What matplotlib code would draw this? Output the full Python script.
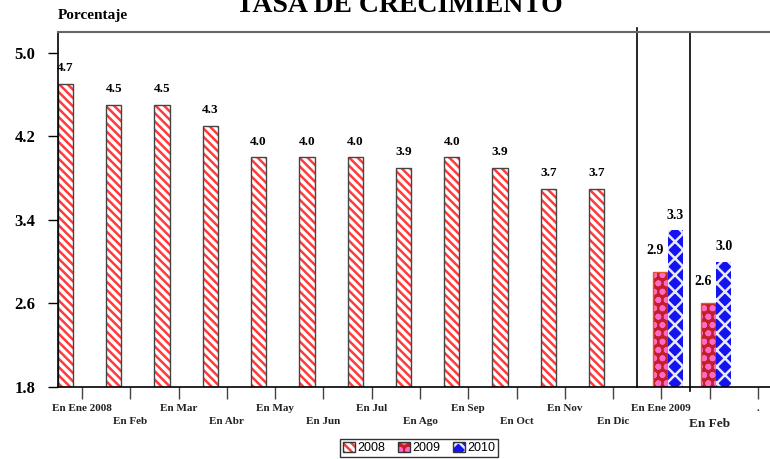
import matplotlib
matplotlib.use("Agg")
import matplotlib.pyplot as plt
from matplotlib.patches import Patch
import numpy as np

plt.rcParams['hatch.linewidth'] = 1.8

# data
meses = ["En Ene 2008", "En Feb", "En Mar", "En Abr", "En May", "En Jun", "En Jul",
         "En Ago", "En Sep", "En Oct", "En Nov", "En Dic", "En Ene 2009", "En Feb", "."]
v2008 = [4.7, 4.5, 4.5, 4.3, 4.0, 4.0, 4.0, 3.9, 4.0, 3.9, 3.7, 3.7]
v2009 = [2.9, 2.6]
v2010 = [3.3, 3.0]
pos2008 = np.arange(12)
pos0910 = np.array([12, 13])

serif = "Liberation Serif"
fig = plt.figure(figsize=(7.7, 4.59), dpi=100)
ax = fig.add_axes([0.0751, 0.1569, 0.9249, 0.7734])

w = 0.317
off08 = -0.5 + w / 2
off09 = -0.5 + 1.5 * w
off10 = -0.5 + 2.5 * w

# 2008: white with red stripes, dark edge
ax.bar(pos2008 + off08, np.array(v2008) - 1.8, w, bottom=1.8, color="white",
       edgecolor="#ff3b3b", hatch="\\\\\\\\", linewidth=0)
ax.bar(pos2008 + off08, np.array(v2008) - 1.8, w, bottom=1.8, fill=False,
       edgecolor="#444444", linewidth=1.0)
# 2009
ax.bar(pos0910 + off09, np.array(v2009) - 1.8, w, bottom=1.8, color="#c41f28",
       edgecolor="#ff6ac8", hatch="oo", linewidth=0)
ax.bar(pos0910 + off09, np.array(v2009) - 1.8, w, bottom=1.8, fill=False,
       edgecolor="#e05a2a", linewidth=1.0)
# 2010
ax.bar(pos0910 + off10, np.array(v2010) - 1.8, w, bottom=1.8, color="#1414ee",
       edgecolor="#e8e8ff", hatch="xx", linewidth=0)

for x, v in zip(pos2008 + off08, v2008):
    ax.annotate(f"{v:.1f}", (x, v), xytext=(0, 7), textcoords="offset points",
                ha="center", va="bottom", fontsize=9.5, fontweight="bold", family=serif)
for x, v in zip(pos0910 + off09, v2009):
    ax.annotate(f"{v:.1f}", (x, v), xytext=(-4, 11), textcoords="offset points",
                ha="center", va="bottom", fontsize=10, fontweight="bold", family=serif)
for x, v in zip(pos0910 + off10, v2010):
    ax.annotate(f"{v:.1f}", (x, v), xytext=(0, 6), textcoords="offset points",
                ha="center", va="bottom", fontsize=10, fontweight="bold", family=serif)

ax.axvline(11.5, ymin=0, ymax=1.01, color="black", lw=1.2, clip_on=False)
ax.axvline(12.6, ymin=-0.01, ymax=1.0, color="black", lw=1.2, clip_on=False)

ax.set_xlim(-0.5, 14.25)
ax.set_ylim(1.8, 5.2)
ax.set_yticks([1.8, 2.6, 3.4, 4.2, 5.0])
ax.set_yticklabels(["1.8", "2.6", "3.4", "4.2", "5.0"], fontsize=12, fontweight="bold", family=serif)
ax.tick_params(axis="y", direction="out", length=7, width=1, pad=9)

ax.set_xticks(range(len(meses)))
ax.set_xticklabels(meses, fontsize=8, fontweight="bold", family=serif, color="#222222")
ax.tick_params(axis="x", direction="out", length=8.5, width=1, color="#444444", pad=4)
ticks = ax.xaxis.get_major_ticks()
for i, t in enumerate(ticks):
    if i % 2 == 1:
        t.set_pad(13)
ticks[13].set_pad(14)
ticks[13].label1.set_fontsize(9.5)

ax.spines["right"].set_visible(False)
ax.spines["top"].set_color("#666666")
ax.spines["top"].set_linewidth(1.5)
ax.spines["left"].set_linewidth(1.2)
ax.spines["bottom"].set_linewidth(1.2)

fig.text(0.519, 0.974, "TASA DE CRECIMIENTO", ha="center", va="baseline",
         fontsize=20, fontweight="bold", family=serif)
fig.text(0.0753, 0.966, "Porcentaje", ha="left", va="center",
         fontsize=11, fontweight="bold", family=serif)

h08 = (Patch(facecolor="white", edgecolor="#ff3b3b", hatch="\\\\\\\\", lw=0),
       Patch(fill=False, edgecolor="#333333", lw=1))
h09 = (Patch(facecolor="#c41f28", edgecolor="#ff6ac8", hatch="oo", lw=0),
       Patch(fill=False, edgecolor="#333333", lw=1))
h10 = (Patch(facecolor="#1414ee", edgecolor="#e8e8ff", hatch="xx", lw=0),
       Patch(fill=False, edgecolor="#333333", lw=1))
leg = fig.legend([h08, h09, h10], ["2008", "2009", "2010"], loc="upper center",
                 bbox_to_anchor=(0.544, 1 - 439 / 459), ncol=3, frameon=True,
                 fancybox=False, edgecolor="black", prop={"family": "Liberation Sans", "size": 9},
                 handlelength=1.0, handleheight=0.8, handletextpad=0.15, columnspacing=1.0,
                 borderpad=0.25, borderaxespad=0)
leg.get_frame().set_linewidth(1.0)

fig.savefig("out.png", dpi=100)
